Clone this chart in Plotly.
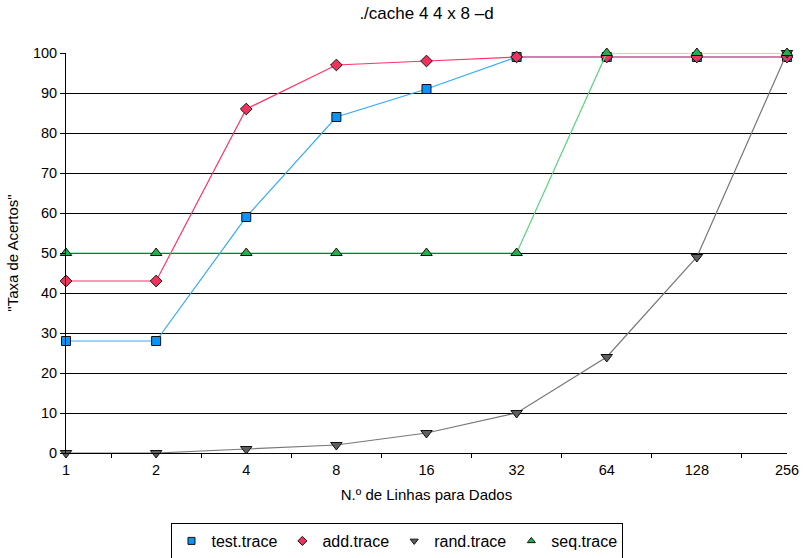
import plotly.graph_objects as go

# Number of data lines (x categories) and hit rates per trace
linhas = ["1", "2", "4", "8", "16", "32", "64", "128", "256"]
test_trace = [28, 28, 59, 84, 91, 99, 99, 99, 99]
add_trace = [43, 43, 86, 97, 98, 99, 99, 99, 99]
rand_trace = [0, 0, 1, 2, 5, 10, 24, 49, 100]
seq_trace = [50, 50, 50, 50, 50, 50, 100, 100, 100]
y_ticks = list(range(0, 101, 10))

pos = list(range(len(linhas)))

series = [
    ("test.trace", test_trace, "square", "#0A94F5", "#33AAFF", 9),
    ("add.trace", add_trace, "diamond", "#F0325E", "#FF3366", 9),
    ("rand.trace", rand_trace, "triangle-down", "#5F5F5F", "#777777", 10),
    ("seq.trace", seq_trace, "triangle-up", "#22B04A", "#55D47A", 10),
]

fig = go.Figure()
for name, vals, sym, mcol, lcol, msize in series:
    fig.add_trace(go.Scatter(
        x=pos, y=vals, name=name, mode="lines+markers", legendgroup=name,
        showlegend=False,
        line=dict(color=lcol, width=1.2),
        marker=dict(symbol=sym, size=msize, color=mcol,
                    line=dict(color="#111111", width=1)),
        cliponaxis=False,
    ))

# Legend entries show the marker only
for name, vals, sym, mcol, lcol, msize in series:
    fig.add_trace(go.Scatter(
        x=[None], y=[None], name=name, mode="markers", legendgroup=name,
        marker=dict(symbol=sym, size=7, color=mcol,
                    line=dict(color="#111111", width=1)),
    ))

fig.update_layout(
    width=803, height=558,
    margin=dict(l=66, r=16, t=53, b=105),
    paper_bgcolor="white", plot_bgcolor="white",
    font=dict(family="Liberation Sans, Arial, sans-serif", size=14, color="#000000"),
    title=dict(text="./cache 4 4 x 8 \u2013d", x=0.5, xref="paper", y=1 - 13 / 558,
               yanchor="middle", font=dict(size=17)),
    showlegend=True,
    legend=dict(orientation="h", xref="container", yref="container",
                x=0.495, xanchor="center", y=1 - 541 / 558, yanchor="middle",
                bordercolor="#000000", borderwidth=1, font=dict(size=16),
                itemwidth=30, tracegroupgap=0),
)

fig.update_xaxes(
    range=[0, len(linhas) - 1], tickmode="array", tickvals=pos, ticktext=linhas,
    ticks="", showgrid=False, zeroline=False, automargin=False,
    showline=True, linecolor="#000000", linewidth=1,
    minor=dict(tickmode="array", tickvals=[p + 0.5 for p in pos[:-1]],
               ticks="outside", ticklen=4, tickcolor="#000000", showgrid=False),
    ticklabelstandoff=4,
    title=dict(text="N.\u00ba de Linhas para Dados", standoff=12, font=dict(size=15)),
    tickfont=dict(size=14.5),
)

fig.update_yaxes(
    range=[0, 100], tickmode="array", tickvals=y_ticks,
    ticks="outside", ticklen=5, tickcolor="#000000", automargin=False,
    showgrid=True, gridcolor="#000000", gridwidth=1, zeroline=False,
    showline=True, linecolor="#000000", linewidth=1,
    title=dict(text="\"Taxa de Acertos\"", standoff=10, font=dict(size=15)),
    tickfont=dict(size=14.5),
)

fig.write_html("out.html")
